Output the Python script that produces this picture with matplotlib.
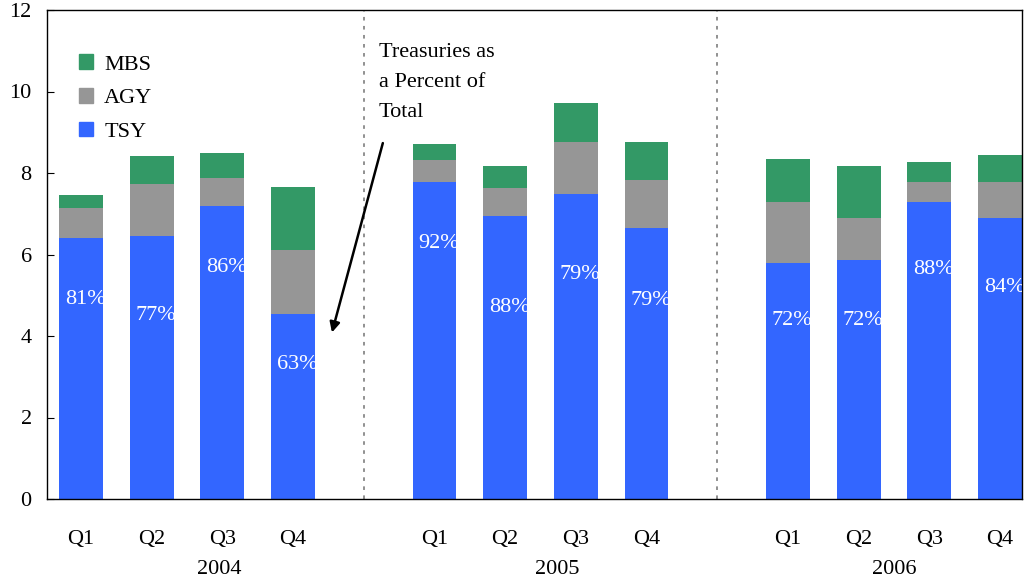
import numpy as np
import matplotlib
matplotlib.use('Agg')
import matplotlib.pyplot as plt
from matplotlib.patches import Patch

plt.rcParams['font.family'] = ['Liberation Serif', 'DejaVu Serif']

# data to plot
years = ['2004', '2005', '2006']
quarters = ['Q1', 'Q2', 'Q3', 'Q4']
tsy = [6.41, 6.46, 7.20, 4.54,
       7.78, 6.95, 7.49, 6.65,
       5.78, 5.87, 7.29, 6.90]
agy = [0.73, 1.28, 0.68, 1.57,
       0.54, 0.69, 1.28, 1.19,
       1.51, 1.03, 0.49, 0.88]
mbs = [0.31, 0.68, 0.60, 1.55,
       0.39, 0.54, 0.96, 0.93,
       1.06, 1.28, 0.50, 0.67]
pct_labels = ['81%', '77%', '86%', '63%',
              '92%', '88%', '79%', '79%',
              '72%', '72%', '88%', '84%']
# heights where the percent labels sit
pct_y = [4.9, 4.5, 5.67, 3.3,
         6.28, 4.71, 5.52, 4.88,
         4.39, 4.37, 5.62, 5.18]

c_tsy = '#3366FF'
c_agy = '#969696'
c_mbs = '#339966'
fs = 16

fig = plt.figure(figsize=(10.25, 5.83), dpi=100)
ax = fig.add_axes([47/1025, 1-499/583, (1022-47)/1025, (499-10)/583])

# 3 groups of 4 bars, one empty slot between groups
index = np.array([g*5 + q for g in range(3) for q in range(4)])
bar_width = 0.62
tsy = np.array(tsy)
agy = np.array(agy)
mbs = np.array(mbs)

ax.bar(index, tsy, bar_width, color=c_tsy, zorder=2)
ax.bar(index, agy, bar_width, bottom=tsy, color=c_agy, zorder=2)
ax.bar(index, mbs, bar_width, bottom=tsy+agy, color=c_mbs, zorder=2)

for x, y, t in zip(index, pct_y, pct_labels):
    ax.text(x - bar_width/2 + 0.08, y, t, color='white', fontsize=fs,
            ha='left', va='center', zorder=3, clip_on=True)

# dividers between years
for d in [4, 9]:
    ax.axvline(d, color='#888888', linestyle=(0, (2, 3)), linewidth=1.3, zorder=1)

ax.set_xlim(-0.48, 13.31)
ax.set_ylim(0, 12)
ax.set_yticks(np.arange(0, 13, 2))
ax.tick_params(axis='y', direction='in', length=5, labelsize=fs, pad=11)
ax.set_xticks(index)
ax.set_xticklabels(quarters * 3, fontsize=fs)
ax.tick_params(axis='x', length=0, pad=22)
for s in ax.spines.values():
    s.set_linewidth(1.0)

year_x = [1.95, 6.73, 11.5]
for x, yr in zip(year_x, years):
    ax.text(x, -1.72, yr, fontsize=fs, ha='center', va='center',
            transform=ax.transData, clip_on=False)

handles = [Patch(color=c_mbs, label='MBS'),
           Patch(color=c_agy, label='AGY'),
           Patch(color=c_tsy, label='TSY')]
ax.legend(handles=handles, loc='upper left', bbox_to_anchor=(0.012, 0.95),
          frameon=False, fontsize=fs, handlelength=0.65, handleheight=0.65,
          handletextpad=0.5, labelspacing=0.6)

ax.text(4.21, 11.2, 'Treasuries as\na Percent of\nTotal', fontsize=fs,
        ha='left', va='top', linespacing=1.8)
ax.annotate('', xy=(3.54, 4.02), xytext=(4.28, 8.8),
            arrowprops=dict(arrowstyle='-|>', color='black', lw=1.8,
                            mutation_scale=15))

fig.savefig('out.png', dpi=100)
